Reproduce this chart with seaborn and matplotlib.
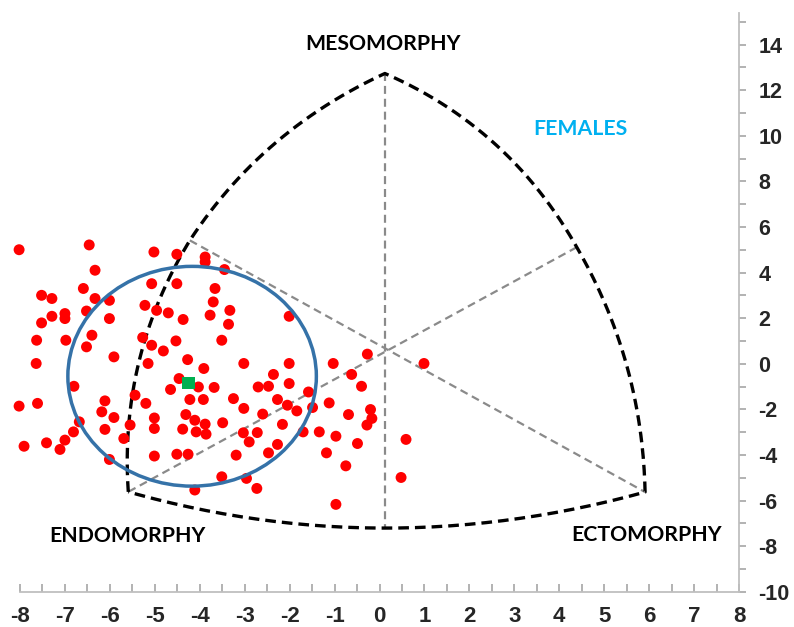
import numpy as np
import pandas as pd
import matplotlib
matplotlib.use("Agg")
import matplotlib.pyplot as plt
from matplotlib.patches import Ellipse
import seaborn as sns

# ---- data (somatotype points, x = ecto - endo, y = 2*meso - (endo+ecto)) ----
subj_x = [-8.02, -6.46, -5.02, -4.51, -3.88, -3.88, -6.33, -5.07, -4.51, -3.66,
          -6.59, -7.52, -7.29, -6.33, -6.01, -3.70, -5.22, -4.96, -4.70, -3.33,
          -6.52, -7.00, -7.00, -7.29, -7.52, -6.01, -4.37, -3.77, -3.36, -6.40,
          -5.27, -4.53, -3.51, -7.63, -6.98, -6.52, -5.07, -4.81, -5.91, -7.64,
          -5.15, -4.27, -3.91, -3.02, -6.80, -4.46, -4.65, -4.03, -3.68, -2.70,
          -5.44, -8.02, -7.61, -6.11, -5.20, -4.22, -3.92, -3.25, -6.18, -5.91,
          -5.01, -4.31, -4.11, -3.88, -3.02, -5.01, -4.38, -4.08, -3.86, -3.49,
          -6.68, -6.81, -6.11, -5.55, -3.03, -2.72, -7.00, -7.41, -7.91, -7.11,
          -5.69, -2.90, -6.01, -5.01, -4.51, -4.26, -3.19, -3.51, -2.96, -4.11,
          -2.73, -3.45, -2.01, -0.27, -1.03, 0.99, -2.01, -2.36, -0.62, -0.40,
          -2.01, -2.47, -1.58, -2.27, -2.05, -1.84, -1.49, -1.12, -2.60, -0.69,
          -0.20, -0.17, -0.28, -2.16, -1.70, -1.34, -0.97, -0.49, 0.59, -2.27,
          -2.47, -1.18, -0.75, 0.48, -0.97]
subj_y = [5.00, 5.21, 4.90, 4.80, 4.68, 4.46, 4.10, 3.51, 3.51, 3.30,
          3.30, 3.00, 2.86, 2.86, 2.78, 2.71, 2.56, 2.34, 2.23, 2.34,
          2.31, 2.20, 1.98, 2.08, 1.79, 1.98, 1.94, 2.13, 1.73, 1.25,
          1.15, 1.00, 1.03, 1.03, 1.03, 0.74, 0.81, 0.56, 0.30, 0.01,
          0.01, 0.18, -0.21, 0.01, -0.99, -0.65, -1.13, -1.02, -1.04, -1.02,
          -1.38, -1.86, -1.74, -1.63, -1.74, -1.57, -1.57, -1.53, -2.11, -2.36,
          -2.38, -2.23, -2.48, -2.65, -1.96, -2.84, -2.87, -2.99, -3.09, -2.59,
          -2.55, -2.99, -2.88, -2.69, -3.03, -3.02, -3.35, -3.47, -3.62, -3.76,
          -3.28, -3.43, -4.20, -4.05, -3.97, -3.97, -4.01, -4.96, -5.03, -5.54,
          -5.47, 4.13, 2.08, 0.42, 0.01, 0.01, 0.01, -0.47, -0.47, -0.99,
          -0.87, -0.99, -1.24, -1.57, -1.82, -2.07, -1.92, -1.72, -2.21, -2.23,
          -2.01, -2.40, -2.69, -2.66, -2.99, -2.99, -3.18, -3.50, -3.32, -3.54,
          -3.91, -3.91, -4.48, -4.99, -6.17]
mean_x = [-4.25]
mean_y = [-0.84]

# somatochart frame: vertices and points on each curved side
endo_pt = (-5.59, -5.62)
meso_pt = (0.12, 12.73)
ecto_pt = (5.91, -5.63)
left_mid = (-4.22, 5.41)
right_mid = (4.39, 5.11)
bottom_mid = (0.12, -7.21)
bulge_meso_left = (-2.33, 9.66)
bulge_left_endo = (-5.35, 0.11)
bulge_meso_right = (2.57, 9.64)
bulge_right_ecto = (5.50, -0.07)

# dispersion ellipse
ell_center = (-4.17, -0.55)
ell_width = 5.53
ell_height = 9.64

labels = {"MESOMORPHY": (0.08, 14.04), "ENDOMORPHY": (-5.62, -7.56),
          "ECTOMORPHY": (5.95, -7.52)}
group_label = ("FEMALES", (4.46, 10.28))

x_ticks = list(range(-8, 9))
y_ticks = list(range(-10, 15, 2))

# ---- plotting ----
sns.set_style("white")
plt.rcParams['font.family'] = ['Liberation Sans', 'DejaVu Sans']

fig = plt.figure(figsize=(7.94, 6.27), dpi=100)
ax = fig.add_axes([20/794, 35.3/627, 719/794, 578.4/627])


def bez(p0, m, p2, n=60):
    p0, m, p2 = map(np.asarray, (p0, m, p2))
    q = 2 * m - (p0 + p2) / 2
    t = np.linspace(0, 1, n)[:, None]
    return (1 - t) ** 2 * p0 + 2 * t * (1 - t) * q + t ** 2 * p2


frame = np.vstack([
    bez(endo_pt, bulge_left_endo, left_mid),
    bez(left_mid, bulge_meso_left, meso_pt),
    bez(meso_pt, bulge_meso_right, right_mid),
    bez(right_mid, bulge_right_ecto, ecto_pt),
    bez(ecto_pt, bottom_mid, endo_pt),
])

gray_kw = dict(color='#8a8a8a', lw=1.6, dashes=(3.6, 2.2), zorder=1)
ax.plot([meso_pt[0], bottom_mid[0]], [meso_pt[1], bottom_mid[1]], **gray_kw)
ax.plot([left_mid[0], ecto_pt[0]], [left_mid[1], ecto_pt[1]], **gray_kw)
ax.plot([right_mid[0], endo_pt[0]], [right_mid[1], endo_pt[1]], **gray_kw)

ax.plot(frame[:, 0], frame[:, 1], color='black', lw=2.4, dashes=(3.2, 1.8),
        solid_joinstyle='miter', zorder=2)

df = pd.DataFrame({"x": subj_x, "y": subj_y})
sns.scatterplot(data=df, x="x", y="y", ax=ax, color='#ff0000', s=62,
                edgecolor='none', linewidth=0, zorder=3, clip_on=False)

ax.add_patch(Ellipse(ell_center, ell_width, ell_height, fill=False,
                     edgecolor='#3572a8', lw=2.5, zorder=4))

sns.scatterplot(x=mean_x, y=mean_y, ax=ax, color='#00b050', marker='s', s=80,
                edgecolor='none', linewidth=0, zorder=5)

for txt, (tx, ty) in labels.items():
    ax.text(tx, ty, txt, ha='center', va='center', fontsize=15.3,
            fontweight='bold', family=['Lato', 'DejaVu Sans'], color='black')
ax.text(group_label[1][0], group_label[1][1], group_label[0], ha='center',
        va='center', fontsize=15.3, fontweight='bold',
        family=['Lato', 'DejaVu Sans'], color='#00b0f0')

ax.set_xlim(-8, 8)
ax.set_ylim(-10, 15.37)
ax.set_xlabel("")
ax.set_ylabel("")

for s in ['top', 'left']:
    ax.spines[s].set_visible(False)
for s in ['bottom', 'right']:
    ax.spines[s].set_color('#bfbfbf')
    ax.spines[s].set_linewidth(1.3)

ax.yaxis.tick_right()
ax.set_xticks(x_ticks)
ax.set_xticks(np.arange(-7.5, 8, 1.0), minor=True)
ax.set_yticks(y_ticks)
ax.set_yticks(np.arange(-9, 16, 2), minor=True)
ax.set_xticklabels([str(v) for v in x_ticks])
ax.set_yticklabels([str(v) for v in y_ticks])
ax.tick_params(axis='x', which='both', direction='in', length=6,
               color='#a6a6a6', width=1.2, labelsize=16, pad=10,
               bottom=True, top=False)
ax.tick_params(axis='y', which='both', direction='out', length=5,
               color='#a6a6a6', width=1.2, labelsize=15.5, pad=9,
               right=True, left=False)
for lab in ax.get_xticklabels() + ax.get_yticklabels():
    lab.set_fontweight('bold')

fig.savefig("out.png", dpi=100)
